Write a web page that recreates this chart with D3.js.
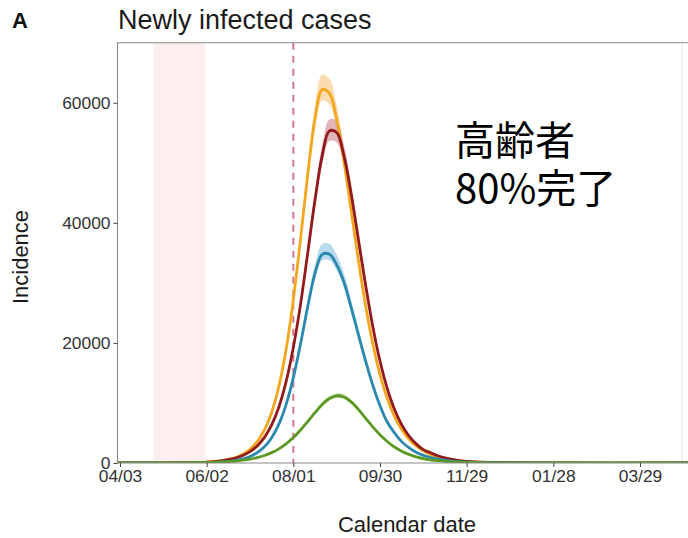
<!DOCTYPE html>
<html><head><meta charset="utf-8">
<script src="https://cdn.jsdelivr.net/npm/d3@7"></script>
<style>body{margin:0;background:#fff} svg{display:block}</style>
</head><body>
<svg id="c" width="688" height="538"></svg>
<script>
const dates = ["2021-04-01","2021-04-25",
 "2021-05-18","2021-05-23","2021-05-28","2021-06-02","2021-06-07","2021-06-12","2021-06-17","2021-06-22","2021-06-27",
 "2021-07-02","2021-07-07","2021-07-12","2021-07-17","2021-07-22","2021-07-27","2021-08-01","2021-08-06","2021-08-11",
 "2021-08-16","2021-08-21","2021-08-26","2021-08-31","2021-09-05","2021-09-10","2021-09-15","2021-09-20","2021-09-25",
 "2021-09-30","2021-10-05","2021-10-10","2021-10-15","2021-10-20","2021-10-25","2021-10-30","2021-11-04","2021-11-09",
 "2021-11-14","2021-11-19","2021-11-24","2021-11-29","2021-12-04","2021-12-09","2021-12-14","2022-01-15","2022-05-10"];

const orangeValues = [0,5,36,61,97,151,240,376,600,920,1455,2280,3570,5500,8440,12760,18900,27200,37300,48100,
 57300,62200,61550,57250,50330,42100,33800,26250,19870,14730,10780,7780,5590,3990,2836,2020,1424,1014,713,502,355,250,176,123,87,10,0];
const darkRedValues = [0,4,45,69,104,158,241,363,550,830,1257,1895,2850,4270,6340,9325,13540,19220,26460,35040,
 43800,51190,55310,55040,51240,44900,37290,29680,22750,16990,12430,8957,6400,4530,3185,2234,1700,1200,850,590,410,285,200,140,95,12,0];
const blueValues = [0,2,17,27,43,69,109,173,276,438,697,1094,1726,2700,4210,6470,9730,14210,19840,26050,
 31570,34750,34770,33050,30140,25910,21440,17000,12950,9550,6830,5020,3560,2550,1774,1270,916,646,460,327,229,161,115,81,57,6,0];
const greenValues = [0,5,30,43,60,84,119,169,238,330,463,647,905,1253,1730,2360,3190,4230,5500,6910,
 8380,9730,10730,11190,10990,10180,8940,7490,6010,4700,3580,2660,1955,1427,1030,740,530,380,270,193,137,97,69,49,34,5,0];

// relative uncertainty band (upper / lower) per series
const ribbonUpper = [0.04, 0.035, 0.05, 0.04];
const ribbonLower = [0.03, 0.03, 0.03, 0.03];

const yTicks = [0, 20000, 40000, 60000];
const xTickDates = ["2021-04-03","2021-06-02","2021-08-01","2021-09-30","2021-11-29","2022-01-28","2022-03-29"];
const xTickLabels = ["04/03","06/02","08/01","09/30","11/29","01/28","03/29"];
const shadeRange = ["2021-04-26","2021-06-01"];
const markerDate = "2021-08-01";
const faintDate = "2022-04-27";

const lineColors = ["#F2A71E","#931A1C","#2B89AF","#5B9A22"];
const bandColors = ["#F8C888","#D08C94","#93C8E4","#ADCF88"];

(function(){
const parse = d3.utcParse("%Y-%m-%d");
const svg = d3.select("#c");
svg.append("rect").attr("width",688).attr("height",538).attr("fill","#fff");

const pL = 117.5, pT = 42.7, pB = 463, pR = 720;
const x = d3.scaleUtc().domain([parse("2021-04-03"), parse("2022-03-29")]).range([120, 640]);
const y = d3.scaleLinear().domain([0, 70000]).range([pB, pT]);

svg.append("defs").append("clipPath").attr("id","clip")
  .append("rect").attr("x",pL).attr("y",pT).attr("width",pR-pL).attr("height",pB-pT);

const plot = svg.append("g").attr("clip-path","url(#clip)");

plot.append("rect")
  .attr("x", x(parse(shadeRange[0]))).attr("y", pT)
  .attr("width", x(parse(shadeRange[1])) - x(parse(shadeRange[0])))
  .attr("height", pB - pT).attr("fill","#FEEFEF");

plot.append("line").attr("x1",x(parse(faintDate))).attr("x2",x(parse(faintDate)))
  .attr("y1",pT).attr("y2",pB).attr("stroke","#e6e6e6").attr("stroke-width",1);

plot.append("line").attr("x1",x(parse(markerDate))).attr("x2",x(parse(markerDate)))
  .attr("y1",pT).attr("y2",pB).attr("stroke","#D2788A").attr("stroke-width",2)
  .attr("stroke-dasharray","7,6");

const seriesValues = [orangeValues, darkRedValues, blueValues, greenValues];
const series = seriesValues.map((vals,i)=>vals.map((v,j)=>({date:parse(dates[j]), v, lo:v*(1-ribbonLower[i]), hi:v*(1+ribbonUpper[i])})));

const curve = d3.curveCatmullRom.alpha(0.5);
const area = d3.area().x(d=>x(d.date)).y0(d=>y(d.lo)).y1(d=>y(d.hi)).curve(curve);
const line = d3.line().x(d=>x(d.date)).y(d=>y(d.v)).curve(curve);

series.forEach((s,i)=>{
  plot.append("path").attr("d",area(s)).attr("fill",bandColors[i]).attr("fill-opacity",0.65);
});
series.forEach((s,i)=>{
  plot.append("path").attr("d",line(s)).attr("fill","none").attr("stroke",lineColors[i])
    .attr("stroke-width",2.8).attr("stroke-linejoin","round");
});

svg.append("path").attr("d",`M${pR},${pT}H${pL}V${pB}H${pR}`)
  .attr("fill","none").attr("stroke","#8a8a8a").attr("stroke-width",1.1);

const font = "'Liberation Sans', Arial, Helvetica, sans-serif";
const xAxis = svg.append("g").attr("transform",`translate(0,${pB})`)
  .call(d3.axisBottom(x).tickValues(xTickDates.map(parse)).tickFormat((d,i)=>xTickLabels[i]).tickSize(4).tickPadding(3));
const yAxis = svg.append("g").attr("transform",`translate(${pL},0)`)
  .call(d3.axisLeft(y).tickValues(yTicks).tickFormat(d3.format("d")).tickSize(4).tickPadding(3));
[xAxis,yAxis].forEach(a=>{
  a.select(".domain").remove();
  a.selectAll(".tick line").attr("stroke","#444").attr("stroke-width",1);
  a.selectAll(".tick text").attr("fill","#333").style("font-family",font).style("font-size","17.4px");
});

svg.append("text").attr("x",12).attr("y",28).text("A")
  .style("font-family",font).style("font-weight","bold").style("font-size","22px").attr("fill","#111");
svg.append("text").attr("x",118).attr("y",29).text("Newly infected cases")
  .style("font-family",font).style("font-size","27px").attr("fill","#1a1a1a");
svg.append("text").attr("transform","translate(28,257) rotate(-90)").attr("text-anchor","middle")
  .text("Incidence").style("font-family",font).style("font-size","22px").attr("fill","#1a1a1a");
svg.append("text").attr("x",407).attr("y",532).attr("text-anchor","middle")
  .text("Calendar date").style("font-family",font).style("font-size","22px").attr("fill","#1a1a1a");

const jp = "'Noto Sans CJK JP', 'Noto Sans', sans-serif";
svg.append("text").attr("x",455).attr("y",155).text("高齢者")
  .style("font-family",jp).style("font-size","40px").style("font-weight","400").attr("fill","#000");
svg.append("text").attr("x",455).attr("y",203).text("80%完了")
  .style("font-family",jp).style("font-size","40px").style("font-weight","400").attr("fill","#000");
})();
</script>
</body></html>
